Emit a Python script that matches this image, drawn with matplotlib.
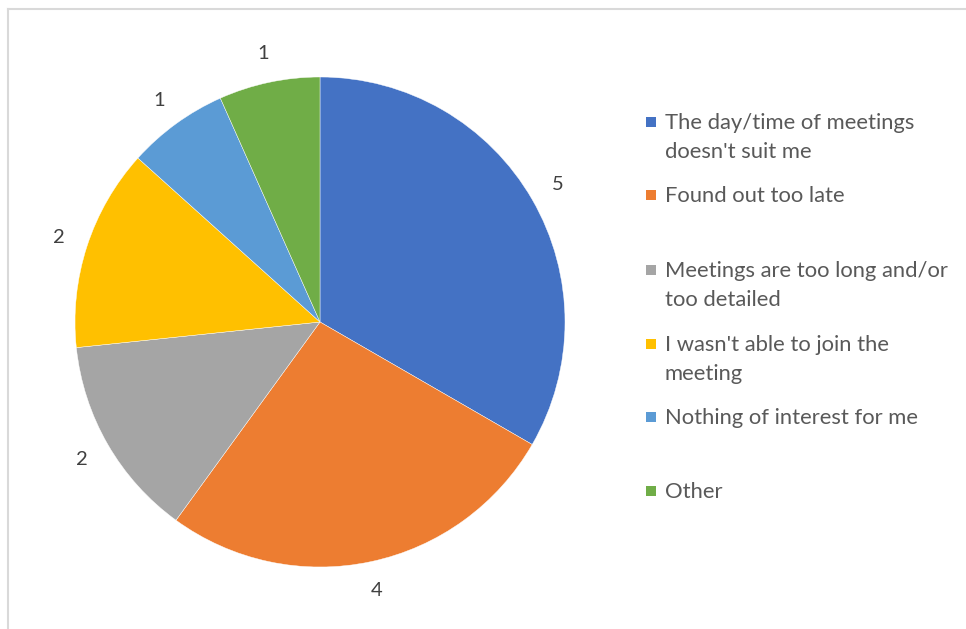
import matplotlib
matplotlib.use("Agg")
import matplotlib.pyplot as plt
from matplotlib.patches import Rectangle
from matplotlib.lines import Line2D

categories = ["The day/time of meetings\ndoesn't suit me",
              "Found out too late",
              "Meetings are too long and/or\ntoo detailed",
              "I wasn't able to join the\nmeeting",
              "Nothing of interest for me",
              "Other"]
values = [5, 4, 2, 2, 1, 1]
colors = ["#4472C4", "#ED7D31", "#A5A5A5", "#FFC000", "#5B9BD5", "#70AD47"]

W, H = 966, 629
fig = plt.figure(figsize=(W / 100, H / 100), dpi=100)
fig.patch.set_facecolor("white")

FONT = "Lato"

# frame lines (left and top)
fig.add_artist(Line2D([7.5 / W, 7.5 / W], [0, 1 - 9 / H], color="#D9D9D9", lw=1.5))
fig.add_artist(Line2D([7.5 / W, 1], [1 - 9 / H, 1 - 9 / H], color="#D9D9D9", lw=1.5))

cx, cy, r = 320, 322, 245
ax = fig.add_axes([(cx - r) / W, (H - cy - r) / H, 2 * r / W, 2 * r / H])
wedges, texts = ax.pie(values, colors=colors, startangle=90, counterclock=False,
                       labels=[str(v) for v in values], labeldistance=1.12,
                       wedgeprops=dict(edgecolor="white", linewidth=0.3),
                       textprops=dict(fontsize=14.5, color="#404040", family=FONT))
for t in texts:
    t.set_ha("center")
    t.set_va("center")
ax.set_xlim(-1, 1)
ax.set_ylim(-1, 1)
ax.set_aspect("equal")
ax.axis("off")

entry_y = [123, 196, 271, 345, 418, 492]
line_h = 29
for lab, col, y in zip(categories, colors, entry_y):
    fig.add_artist(Rectangle((646 / W, 1 - (y + 4) / H), 10 / W, 10 / H,
                             transform=fig.transFigure, facecolor=col, edgecolor="none"))
    for i, line in enumerate(lab.split("\n")):
        fig.text(665 / W, 1 - (y + i * line_h) / H, line, fontsize=15.8,
                 color="#595959", family=FONT, ha="left", va="center")

fig.savefig("out.png", dpi=100, facecolor="white")
